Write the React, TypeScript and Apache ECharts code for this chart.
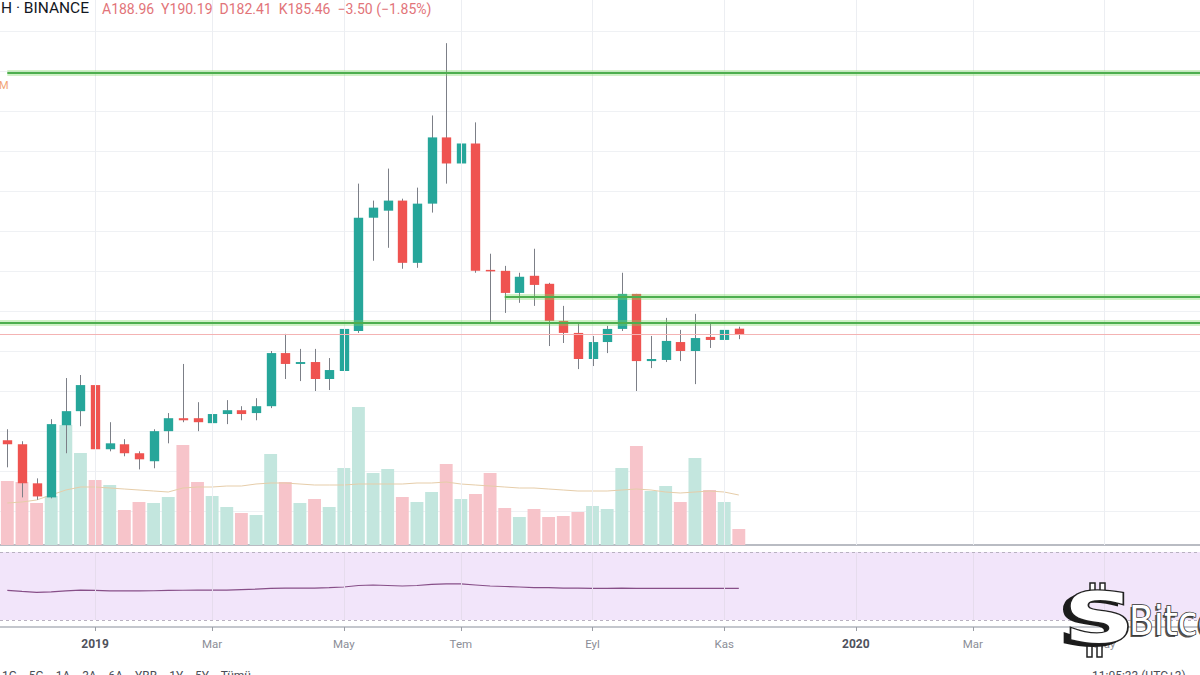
import React, { useEffect, useRef } from "react";
import * as echarts from "echarts";

// ---- data (weekly ETH/USDT, Binance) ----
const START_UTC = Date.UTC(2018, 10, 26); // first visible weekly candle
const WEEKS_ON_AXIS = 83;

const OPEN = [119.2, 116.7, 92.3, 83.5, 128.6, 137.4, 153.7, 113.6, 116.7, 111.1, 106.1, 124.9, 133.0, 133.0, 129.9, 135.6, 138.0, 136.2, 140.5, 173.7, 166.9, 168.1, 157.5, 162.5, 187.5, 258.3, 262.7, 269.0, 230.1, 267.1, 308.5, 292.2, 304.7, 225.7, 225.1, 211.3, 222.0, 217.0, 193.8, 186.3, 170.0, 180.6, 188.8, 210.7, 168.7, 169.4, 180.6, 175.0, 183.8, 181.9, 188.96];
const HIGH = [126.1, 118.6, 95.4, 132.4, 158.1, 160.0, 156.2, 130.5, 119.9, 112.3, 126.1, 136.2, 166.9, 143.0, 140.5, 144.3, 140.5, 145.5, 175.0, 185.7, 176.3, 176.3, 170.6, 205.1, 279.6, 269.0, 289.0, 270.2, 277.1, 322.2, 367.4, 309.1, 317.9, 235.8, 228.2, 223.9, 238.9, 217.6, 203.2, 191.9, 184.4, 190.7, 223.9, 210.7, 184.4, 195.7, 188.2, 198.2, 191.9, 195.0, 190.19];
const LOW = [102.3, 83.5, 82.0, 82.9, 111.1, 128.0, 112.3, 112.3, 109.2, 101.0, 101.7, 117.3, 130.5, 124.9, 121.7, 129.3, 131.7, 131.7, 139.3, 157.5, 156.2, 150.0, 150.6, 156.8, 186.3, 231.4, 239.5, 226.4, 227.0, 261.5, 279.6, 272.1, 223.9, 192.5, 198.8, 205.1, 203.2, 178.1, 180.0, 163.7, 165.6, 173.7, 187.5, 150.0, 164.3, 168.1, 168.7, 154.3, 176.9, 181.3, 182.41];
const CLOSE = [116.7, 92.3, 84.1, 129.3, 137.4, 153.7, 113.6, 117.3, 111.1, 107.3, 124.9, 133.0, 131.7, 130.5, 135.6, 138.0, 135.6, 140.5, 173.7, 166.9, 168.1, 157.5, 163.1, 188.8, 258.3, 264.6, 269.0, 230.1, 267.1, 308.5, 292.2, 304.7, 225.1, 225.1, 211.3, 221.4, 216.3, 193.8, 186.3, 170.0, 180.6, 188.8, 210.7, 168.7, 170.0, 181.3, 175.0, 183.1, 181.9, 188.2, 185.46];
// volume, thousand ETH
const VOLUME = [2560, 2520, 1680, 1960, 4800, 3680, 2600, 2400, 1400, 1720, 1680, 1920, 4000, 2520, 1960, 1520, 1280, 1200, 3640, 2520, 1680, 1840, 1520, 3080, 5520, 2880, 3040, 1920, 1720, 2120, 3240, 1840, 2040, 2880, 1480, 1120, 1440, 1120, 1160, 1320, 1560, 1440, 3080, 3960, 2160, 2360, 1720, 3480, 2200, 1720, 640];
const VOLUME_MA = [1680, 1720, 1800, 2000, 2200, 2320, 2320, 2280, 2240, 2200, 2160, 2120, 2280, 2320, 2320, 2360, 2360, 2440, 2480, 2480, 2440, 2400, 2400, 2400, 2440, 2440, 2440, 2440, 2480, 2480, 2520, 2440, 2400, 2360, 2320, 2280, 2280, 2240, 2200, 2160, 2160, 2160, 2200, 2240, 2200, 2120, 2080, 2120, 2160, 2120, 2000];
// lower pane oscillator
const OSC = [47.4, 46.8, 46.3, 46.5, 47.1, 47.6, 47.4, 47.1, 47.1, 47.1, 47.2, 47.4, 47.5, 47.6, 47.6, 47.6, 47.9, 48.2, 48.6, 48.7, 48.8, 48.8, 49.0, 49.4, 50.3, 50.6, 50.3, 50.0, 50.3, 50.9, 51.2, 51.2, 50.6, 50.0, 49.7, 49.4, 49.1, 49.0, 48.8, 48.7, 48.6, 48.6, 48.8, 48.6, 48.6, 48.6, 48.6, 48.6, 48.6, 48.6, 48.6];
const OSC_BAND = [30, 70];

const TICK_DATES = ["2019-01-07", "2019-03-04", "2019-05-06", "2019-07-01", "2019-09-02", "2019-11-04", "2020-01-06", "2020-03-02", "2020-05-04"];
const TICK_LABELS = ["2019", "Mar", "May", "Tem", "Eyl", "Kas", "2020", "Mar", "May"];

const LEVEL_TOP = 348.6;
const LEVEL_MID = 208.8;
const LEVEL_LOW = 192.5;
const LEVEL_MID_START = "2019-07-22";
const LAST_PRICE = 185.46;

const CATEGORIES: string[] = [];
for (let i = 0; i < WEEKS_ON_AXIS; i++) {
  CATEGORIES.push(new Date(START_UTC + i * 7 * 86400000).toISOString().slice(0, 10));
}

const UP = "#26a69a";
const DOWN = "#ef5350";
const UP_VOL = "#c3e6de";
const DOWN_VOL = "#f7c4ca";

export default function App() {
  const ref = useRef<HTMLDivElement>(null);

  useEffect(() => {
    document.body.style.margin = "0";
    if (!ref.current) return;
    const chart = echarts.init(ref.current, null, { renderer: "svg" });

    const tickSet: Record<string, string> = {};
    TICK_DATES.forEach((d, i) => (tickSet[d] = TICK_LABELS[i]));
    const isTick = (_i: number, v: string) => v in tickSet;

    const gridW = WEEKS_ON_AXIS * 14.63;
    const lastCat = CATEGORIES[CATEGORIES.length - 1];
    const firstCat = CATEGORIES[0];

    const glow = { color: "rgba(120,215,95,0.35)", width: 6, type: "solid" };
    const core = { color: "#4dae4f", width: 2, type: "solid" };

    const vGrid = TICK_DATES.map((d) => ({ xAxis: d }));

    const logoZ = 200;
    const barStyle = { fill: "#fff", stroke: "#222", lineWidth: 1.5 };

    const option: any = {
      animation: false,
      backgroundColor: "#ffffff",
      textStyle: { fontFamily: "Roboto, 'Noto Sans', sans-serif" },
      grid: [
        { left: 0, top: 31, width: gridW, height: 480, outerBoundsMode: "none", containLabel: false },
        { left: 0, top: 0, width: gridW, height: 545, outerBoundsMode: "none", containLabel: false },
        { left: 0, top: 552, width: gridW, height: 68, outerBoundsMode: "none", containLabel: false },
      ],
      xAxis: [
        { type: "category", gridIndex: 0, data: CATEGORIES, show: false },
        {
          type: "category",
          gridIndex: 1,
          data: CATEGORIES,
          axisLine: { show: true, lineStyle: { color: "#b9bcc3", width: 2 } },
          axisTick: { show: false },
          axisLabel: { show: false },
          splitLine: { show: false },
        },
        {
          type: "category",
          gridIndex: 2,
          data: CATEGORIES,
          offset: 7,
          axisLine: { show: true, lineStyle: { color: "#c4c7cd", width: 2 } },
          axisTick: {
            show: true,
            alignWithLabel: true,
            interval: isTick,
            length: 4,
            lineStyle: { color: "#9a9da5" },
          },
          axisLabel: {
            show: true,
            interval: isTick,
            margin: 11,
            formatter: (v: string) => {
              const t = tickSet[v] || "";
              return /^\d{4}$/.test(t) ? "{y|" + t + "}" : "{m|" + t + "}";
            },
            rich: {
              y: { fontSize: 12, fontWeight: "bold", color: "#4f525c", fontFamily: "Roboto" },
              m: { fontSize: 11.5, color: "#8b8e97", fontFamily: "Roboto" },
            },
          },
          splitLine: { show: false },
        },
      ],
      yAxis: [
        {
          type: "value",
          gridIndex: 0,
          min: 75,
          max: 375,
          interval: 25,
          axisLine: { show: false },
          axisTick: { show: false },
          axisLabel: { show: false },
          splitLine: { show: true, lineStyle: { color: "#eff1f4", width: 1 } },
        },
        { type: "value", gridIndex: 1, min: 0, max: 21800, show: false },
        {
          type: "value",
          gridIndex: 2,
          min: OSC_BAND[0],
          max: OSC_BAND[1],
          axisLine: { show: false },
          axisTick: { show: false },
          axisLabel: { show: false },
          splitLine: { show: false },
        },
      ],
      series: [
        {
          name: "Volume",
          type: "bar",
          xAxisIndex: 1,
          yAxisIndex: 1,
          barWidth: "88%",
          z: 1,
          data: VOLUME.map((v, i) => ({
            value: v,
            itemStyle: { color: CLOSE[i] >= OPEN[i] ? UP_VOL : DOWN_VOL },
          })),
          markLine: {
            silent: true,
            symbol: ["none", "none"],
            label: { show: false },
            lineStyle: { color: "#eceef2", width: 1, type: "solid" },
            data: vGrid,
          },
        },
        {
          name: "Volume MA",
          type: "line",
          xAxisIndex: 1,
          yAxisIndex: 1,
          data: VOLUME_MA,
          symbol: "none",
          z: 2,
          lineStyle: { color: "#e6cda9", width: 1 },
        },
        {
          name: "ETH/USDT",
          type: "custom",
          xAxisIndex: 0,
          yAxisIndex: 0,
          z: 3,
          clip: false,
          encode: { x: 0, y: [1, 2, 3, 4] },
          data: OPEN.map((o, i) => [i, o, CLOSE[i], LOW[i], HIGH[i]]),
          renderItem: (params: any, api: any) => {
            const x = api.value(0);
            const o = api.value(1);
            const c = api.value(2);
            const pO = api.coord([x, o]);
            const pC = api.coord([x, c]);
            const pL = api.coord([x, api.value(3)]);
            const pH = api.coord([x, api.value(4)]);
            const w = api.size([1, 0])[0] * 0.64;
            const up = c >= o;
            const top = Math.min(pO[1], pC[1]);
            const h = Math.max(1.5, Math.abs(pO[1] - pC[1]));
            const cx = Math.round(pO[0]) + 0.5;
            return {
              type: "group",
              children: [
                {
                  type: "line",
                  shape: { x1: cx, y1: pH[1], x2: cx, y2: pL[1] },
                  style: { stroke: "#7c7f87", lineWidth: 1 },
                },
                {
                  type: "rect",
                  shape: { x: cx - w / 2, y: top, width: w, height: h },
                  style: { fill: up ? UP : DOWN },
                },
              ],
            };
          },
        },
        {
          name: "levels",
          type: "line",
          xAxisIndex: 0,
          yAxisIndex: 0,
          data: CLOSE,
          symbol: "none",
          silent: true,
          z: 5,
          lineStyle: { opacity: 0 },
          markLine: {
            silent: true,
            symbol: ["none", "none"],
            label: { show: false },
            data: [
              { yAxis: LAST_PRICE, lineStyle: { color: "#f4b3b3", width: 1, type: "solid" } },
              [
                { coord: [firstCat, LEVEL_TOP], lineStyle: glow },
                { coord: [lastCat, LEVEL_TOP] },
              ],
              [
                { coord: [firstCat, LEVEL_TOP], lineStyle: core },
                { coord: [lastCat, LEVEL_TOP] },
              ],
              [
                { coord: [LEVEL_MID_START, LEVEL_MID], lineStyle: glow },
                { coord: [lastCat, LEVEL_MID] },
              ],
              [
                { coord: [LEVEL_MID_START, LEVEL_MID], lineStyle: core },
                { coord: [lastCat, LEVEL_MID] },
              ],
              { yAxis: LEVEL_LOW, lineStyle: glow },
              { yAxis: LEVEL_LOW, lineStyle: core },
            ],
          },
        },
        {
          name: "Oscillator",
          type: "line",
          xAxisIndex: 2,
          yAxisIndex: 2,
          data: OSC,
          symbol: "none",
          z: 3,
          lineStyle: { color: "#874f88", width: 1.2 },
          markArea: {
            silent: true,
            itemStyle: { color: "#f2e5fa" },
            data: [[{ yAxis: OSC_BAND[0] }, { yAxis: OSC_BAND[1] }]],
          },
          markLine: {
            silent: true,
            symbol: ["none", "none"],
            label: { show: false },
            data: [
              ...TICK_DATES.map((d) => ({
                xAxis: d,
                lineStyle: { color: "#e6dced", width: 1, type: "solid" },
              })),
              { yAxis: OSC_BAND[1], lineStyle: { color: "#b8b1c0", width: 1, type: [3, 3] } },
              { yAxis: OSC_BAND[0], lineStyle: { color: "#b8b1c0", width: 1, type: [3, 3] } },
            ],
          },
        },
      ],
      graphic: [
        {
          type: "text",
          x: 89,
          y: 0,
          z: 100,
          style: {
            text: "Ethereum / TetherUS · 1H · BINANCE",
            textAlign: "right",
            textVerticalAlign: "top",
            fontSize: 15.5,
            fontFamily: "Roboto",
            fill: "#131722",
          },
        },
        {
          type: "text",
          x: 102,
          y: 2,
          z: 100,
          style: {
            text: "A188.96  Y190.19  D182.41  K185.46  −3.50 (−1.85%)",
            textVerticalAlign: "top",
            fontSize: 14,
            fontFamily: "Roboto",
            fill: "#e27479",
          },
        },
        {
          type: "text",
          x: -1,
          y: 80,
          z: 100,
          style: { text: "M", textVerticalAlign: "top", fontSize: 11, fontFamily: "Roboto", fill: "#f2a476" },
        },
        {
          type: "text",
          x: 2,
          y: 670,
          z: 100,
          style: {
            text: "1G    5G    1A    3A    6A    YBB    1Y    5Y    Tümü",
            textVerticalAlign: "top",
            fontSize: 12,
            fontFamily: "Roboto",
            fill: "#4a4d55",
          },
        },
        {
          type: "text",
          x: 1092,
          y: 670,
          z: 100,
          style: {
            text: "11:05:33 (UTC+3)",
            textVerticalAlign: "top",
            fontSize: 12,
            fontFamily: "Roboto",
            fill: "#4a4d55",
          },
        },
        // watermark logo
        { type: "rect", z: logoZ, shape: { x: 1090, y: 583, width: 5, height: 15 }, style: barStyle },
        { type: "rect", z: logoZ, shape: { x: 1100, y: 583, width: 5, height: 15 }, style: barStyle },
        { type: "rect", z: logoZ, shape: { x: 1087, y: 641, width: 5, height: 16 }, style: barStyle },
        { type: "rect", z: logoZ, shape: { x: 1097, y: 641, width: 5, height: 16 }, style: barStyle },
        {
          type: "text",
          x: 1093,
          y: 621,
          z: logoZ + 1,
          scaleX: 1.45,
          style: {
            text: "S",
            textAlign: "center",
            textVerticalAlign: "middle",
            fontSize: 72,
            fontWeight: "bold",
            fontFamily: "DejaVu Sans",
            fill: "#1b1b1b",
          },
        },
        {
          type: "text",
          x: 1099,
          y: 618,
          z: logoZ + 2,
          scaleX: 1.4,
          style: {
            text: "S",
            textAlign: "center",
            textVerticalAlign: "middle",
            fontSize: 70,
            fontWeight: "bold",
            fontFamily: "DejaVu Sans",
            fill: "#ffffff",
            stroke: "#222222",
            lineWidth: 2.5,
          },
        },
        {
          type: "text",
          x: 1127,
          y: 623,
          z: logoZ + 1,
          style: {
            text: "BitcoinSistemi",
            textVerticalAlign: "middle",
            fontSize: 40,
            fontFamily: "'Liberation Sans Narrow', 'DejaVu Sans Condensed', 'Liberation Sans', sans-serif",
            fill: "#555555",
          },
        },
        {
          type: "text",
          x: 1129,
          y: 621,
          z: logoZ + 2,
          style: {
            text: "BitcoinSistemi",
            textVerticalAlign: "middle",
            fontSize: 40,
            fontFamily: "'Liberation Sans Narrow', 'DejaVu Sans Condensed', 'Liberation Sans', sans-serif",
            fill: "#ffffff",
            stroke: "#333333",
            lineWidth: 1.5,
          },
        },
      ],
    };

    chart.setOption(option);
    return () => chart.dispose();
  }, []);

  return <div ref={ref} style={{ width: 1200, height: 675 }} />;
}
